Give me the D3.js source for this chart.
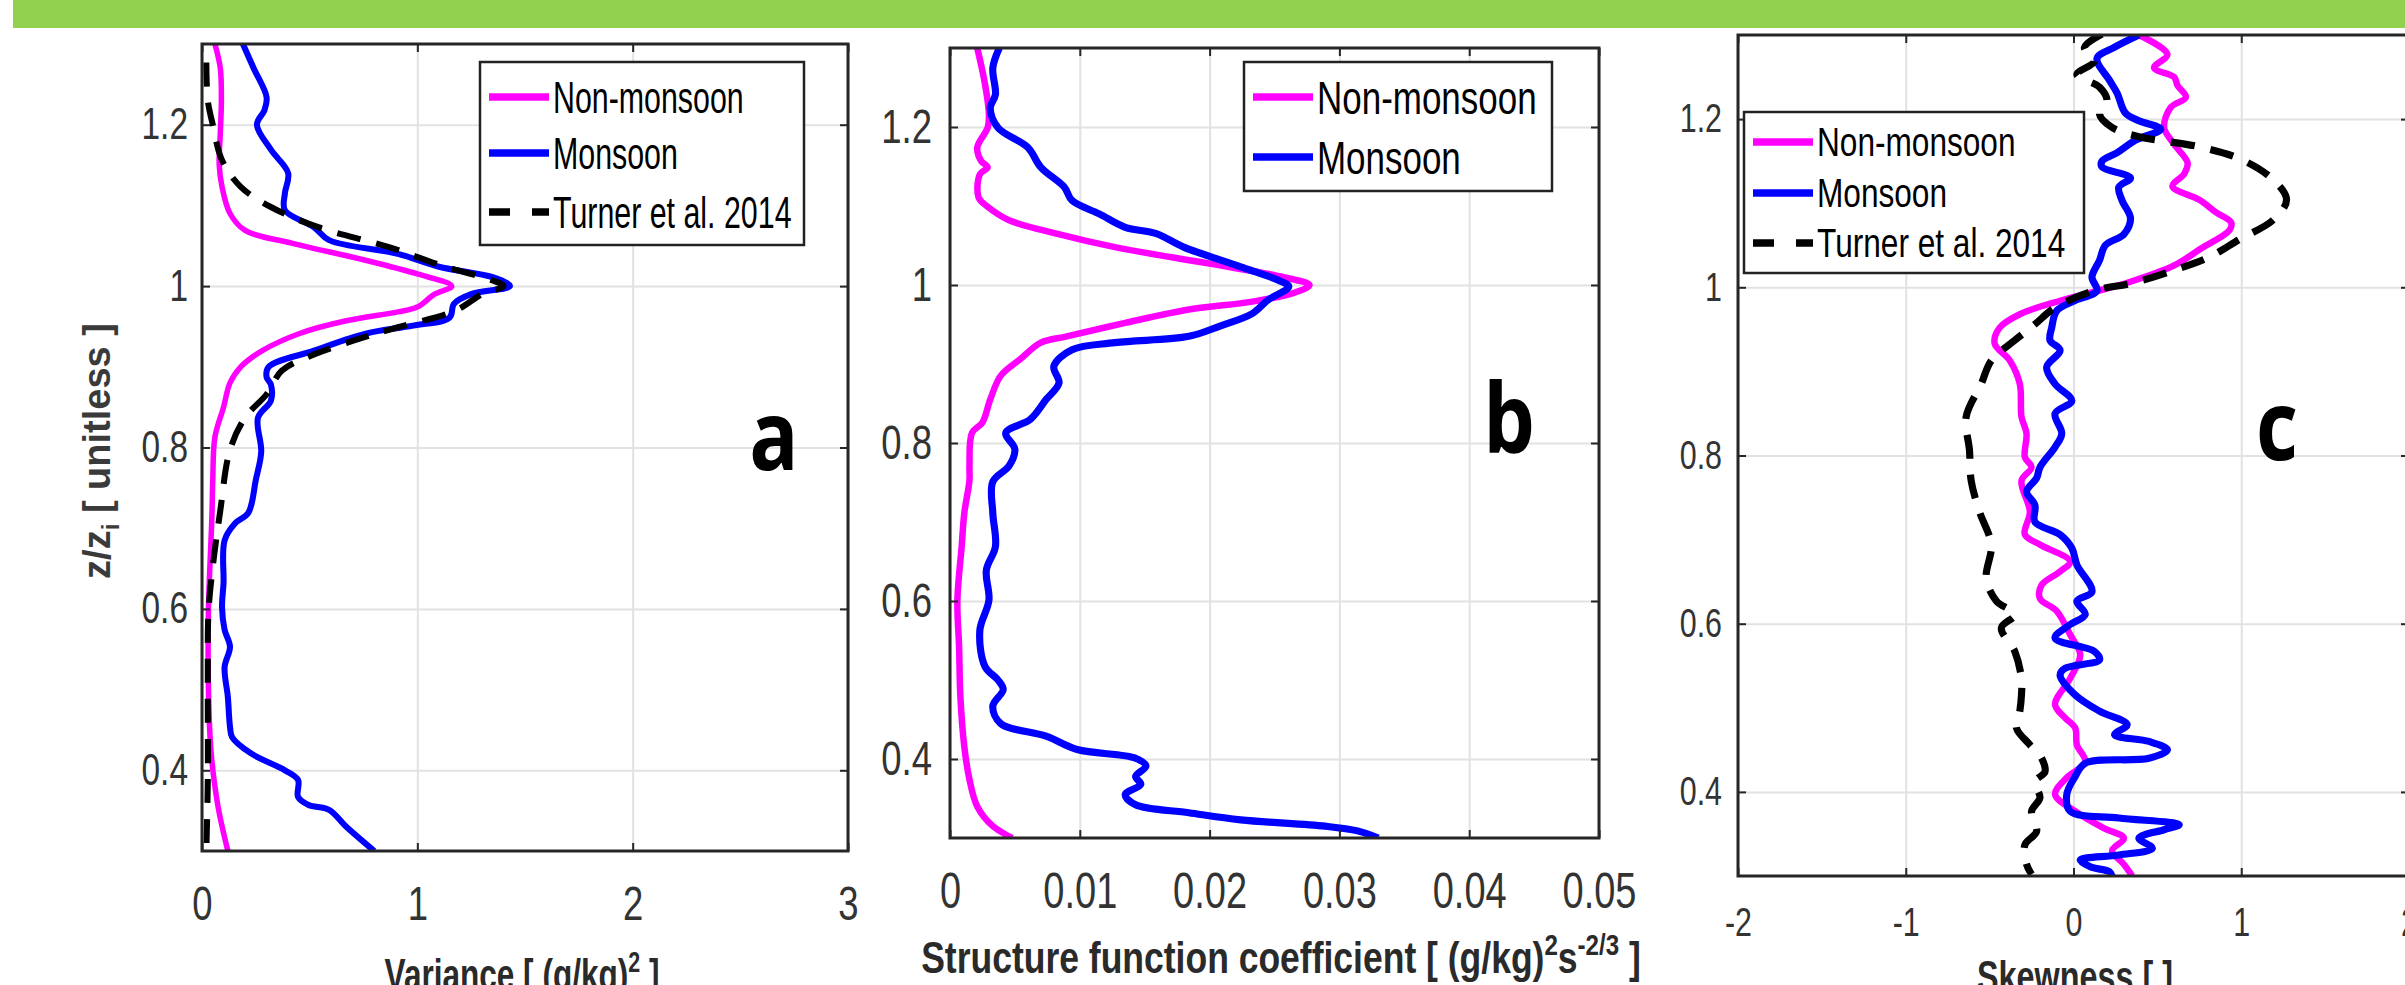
<!DOCTYPE html>
<html>
<head>
<meta charset="utf-8">
<script src="https://cdn.jsdelivr.net/npm/d3@7"></script>
<style>
  body { margin: 0; background: #fff; }
  svg { display: block; }
</style>
</head>
<body>
<svg id="fig" width="2405" height="985"></svg>
<script>
// -------------------- Data --------------------

// shared vertical axis
const zTicks = [0.4, 0.6, 0.8, 1, 1.2];
const zDomain = [0.3, 1.3];
const seriesNames = ["Non-monsoon", "Monsoon", "Turner et al. 2014"];

// panel a : variance  [value, z/zi]
const varTicks = [0, 1, 2, 3];
const varNon = [[0.06,1.30],[0.085,1.27],[0.09,1.23],[0.085,1.19],[0.08,1.15],[0.093,1.123],[0.13,1.09],[0.20,1.069],[0.42,1.053],[0.76,1.032],[1.0,1.015],[1.16,1.0],[1.08,0.99],[1.0,0.974],[0.91,0.968],[0.67,0.957],[0.45,0.941],[0.28,0.92],[0.18,0.9],[0.13,0.88],[0.1,0.85],[0.06,0.813],[0.05,0.76],[0.046,0.714],[0.03,0.6],[0.03,0.5],[0.04,0.43],[0.056,0.388],[0.08,0.347],[0.12,0.30]];
const varMon = [[0.19,1.30],[0.24,1.27],[0.30,1.234],[0.29,1.218],[0.255,1.2],[0.32,1.169],[0.40,1.14],[0.385,1.115],[0.385,1.094],[0.52,1.073],[0.59,1.057],[0.91,1.04],[1.10,1.024],[1.35,1.011],[1.43,1.0],[1.25,0.99],[1.17,0.978],[1.15,0.961],[0.98,0.951],[0.76,0.941],[0.52,0.92],[0.31,0.9],[0.30,0.887],[0.32,0.878],[0.32,0.858],[0.26,0.837],[0.275,0.795],[0.25,0.76],[0.215,0.719],[0.154,0.706],[0.105,0.685],[0.10,0.632],[0.093,0.602],[0.105,0.574],[0.13,0.553],[0.105,0.528],[0.12,0.491],[0.13,0.454],[0.14,0.441],[0.227,0.421],[0.385,0.40],[0.446,0.388],[0.446,0.367],[0.495,0.357],[0.59,0.351],[0.67,0.33],[0.80,0.30]];
const varTur = [[0.02,1.277],[0.027,1.23],[0.05,1.2],[0.093,1.156],[0.18,1.123],[0.32,1.098],[0.54,1.073],[0.86,1.049],[1.13,1.024],[1.35,1.007],[1.40,1.0],[1.30,0.99],[1.18,0.97],[0.91,0.949],[0.71,0.933],[0.49,0.912],[0.37,0.895],[0.30,0.866],[0.20,0.837],[0.13,0.797],[0.084,0.72],[0.05,0.652],[0.03,0.595],[0.027,0.512],[0.027,0.388],[0.02,0.30]];

// panel b : structure function coefficient
const sfcTicks = [0, 0.01, 0.02, 0.03, 0.04, 0.05];
const sfcNon = [[0.0021,1.30],[0.0027,1.254],[0.0030,1.216],[0.0029,1.199],[0.0021,1.174],[0.0024,1.157],[0.0029,1.149],[0.0023,1.14],[0.0022,1.111],[0.0029,1.099],[0.00455,1.082],[0.0082,1.065],[0.0127,1.048],[0.020,1.027],[0.0257,1.01],[0.0277,1.0],[0.0265,0.99],[0.0233,0.979],[0.0184,0.969],[0.0135,0.952],[0.0090,0.935],[0.0070,0.927],[0.0054,0.906],[0.0039,0.885],[0.0031,0.855],[0.0025,0.826],[0.0017,0.813],[0.0015,0.771],[0.0015,0.753],[0.0011,0.711],[0.0009,0.669],[0.00057,0.601],[0.0007,0.542],[0.0008,0.479],[0.0011,0.416],[0.0015,0.374],[0.0021,0.34],[0.0033,0.315],[0.0048,0.30]];
const sfcMon = [[0.0038,1.30],[0.0033,1.275],[0.0035,1.241],[0.0031,1.224],[0.0037,1.199],[0.0060,1.174],[0.0070,1.149],[0.0088,1.124],[0.0094,1.107],[0.0115,1.09],[0.0135,1.073],[0.0159,1.065],[0.0180,1.048],[0.0224,1.023],[0.0253,1.006],[0.0261,0.998],[0.0245,0.981],[0.0233,0.964],[0.0208,0.948],[0.0184,0.935],[0.0127,0.927],[0.0094,0.918],[0.0080,0.897],[0.0084,0.876],[0.0074,0.855],[0.0062,0.83],[0.0043,0.813],[0.0050,0.792],[0.00455,0.771],[0.0033,0.751],[0.0033,0.711],[0.0035,0.669],[0.0028,0.639],[0.0030,0.601],[0.0023,0.563],[0.0027,0.517],[0.0037,0.5],[0.0041,0.488],[0.0033,0.467],[0.0039,0.445],[0.0074,0.429],[0.0098,0.412],[0.0143,0.401],[0.0151,0.391],[0.0143,0.378],[0.0147,0.368],[0.0135,0.355],[0.0143,0.342],[0.0184,0.332],[0.0224,0.323],[0.0289,0.315],[0.0314,0.309],[0.0330,0.30]];

// panel c : skewness
const skewTicks = [-2, -1, 0, 1, 2];
const skewNon = [[0.39,1.30],[0.56,1.277],[0.48,1.261],[0.60,1.25],[0.62,1.24],[0.67,1.226],[0.58,1.214],[0.54,1.19],[0.60,1.17],[0.68,1.148],[0.66,1.135],[0.59,1.12],[0.75,1.104],[0.85,1.089],[0.94,1.077],[0.93,1.068],[0.76,1.046],[0.60,1.026],[0.33,1.006],[0.13,0.995],[-0.08,0.984],[-0.32,0.968],[-0.44,0.952],[-0.47,0.933],[-0.38,0.913],[-0.32,0.885],[-0.31,0.846],[-0.28,0.826],[-0.29,0.798],[-0.25,0.786],[-0.31,0.770],[-0.26,0.733],[-0.29,0.706],[-0.20,0.694],[-0.02,0.674],[-0.08,0.662],[-0.19,0.646],[-0.20,0.63],[-0.10,0.615],[-0.02,0.587],[0.04,0.563],[-0.02,0.535],[-0.11,0.504],[-0.05,0.488],[0.01,0.476],[0.02,0.456],[0.07,0.436],[-0.04,0.417],[-0.11,0.397],[0.01,0.377],[0.18,0.357],[0.30,0.345],[0.23,0.33],[0.30,0.314],[0.35,0.30]];
const skewMon = [[0.39,1.30],[0.24,1.285],[0.14,1.272],[0.215,1.246],[0.26,1.231],[0.31,1.207],[0.39,1.198],[0.52,1.188],[0.37,1.175],[0.26,1.16],[0.17,1.15],[0.17,1.143],[0.34,1.13],[0.27,1.119],[0.29,1.103],[0.34,1.082],[0.30,1.063],[0.19,1.05],[0.155,1.032],[0.11,1.012],[0.14,0.996],[0.006,0.984],[-0.10,0.972],[-0.13,0.952],[-0.14,0.937],[-0.08,0.925],[-0.16,0.905],[-0.11,0.885],[-0.01,0.865],[-0.11,0.85],[-0.07,0.826],[-0.11,0.81],[-0.20,0.786],[-0.22,0.773],[-0.28,0.757],[-0.23,0.741],[-0.23,0.721],[-0.08,0.706],[-0.01,0.69],[0.02,0.67],[0.11,0.638],[0.02,0.627],[0.07,0.611],[-0.02,0.599],[-0.11,0.583],[0.125,0.567],[0.155,0.557],[-0.05,0.547],[-0.08,0.539],[0.006,0.516],[0.155,0.496],[0.32,0.48],[0.245,0.468],[0.45,0.46],[0.56,0.45],[0.45,0.44],[0.07,0.434],[0.006,0.417],[-0.04,0.397],[-0.02,0.377],[0.27,0.369],[0.63,0.361],[0.54,0.355],[0.39,0.345],[0.47,0.333],[0.27,0.325],[0.04,0.319],[0.10,0.311],[0.215,0.305],[0.23,0.30]];
const skewTur = [[0.17,1.301],[0.065,1.285],[0.125,1.269],[0.02,1.253],[0.155,1.238],[0.20,1.222],[0.155,1.206],[0.23,1.19],[0.39,1.179],[0.75,1.167],[1.0,1.152],[1.19,1.128],[1.27,1.104],[1.19,1.08],[0.99,1.057],[0.81,1.036],[0.61,1.021],[0.35,1.005],[0.125,0.996],[-0.11,0.976],[-0.23,0.956],[-0.35,0.937],[-0.49,0.913],[-0.55,0.885],[-0.64,0.846],[-0.62,0.806],[-0.61,0.77],[-0.56,0.733],[-0.49,0.694],[-0.52,0.654],[-0.46,0.627],[-0.35,0.611],[-0.43,0.595],[-0.35,0.567],[-0.31,0.535],[-0.31,0.516],[-0.32,0.496],[-0.34,0.476],[-0.26,0.456],[-0.19,0.44],[-0.17,0.424],[-0.23,0.412],[-0.20,0.393],[-0.25,0.377],[-0.22,0.353],[-0.29,0.337],[-0.28,0.314],[-0.25,0.302]];

// -------------------- Layout --------------------

const styles = [
  { color: "#ff00ff", dash: null, k: 1 },
  { color: "#0000ff", dash: null, k: 1.1 },
  { color: "#000000", dash: "24,16", k: 1.1 }
];

const panels = [
  { id: "a", x0: 202, x1: 848, y0: 44, y1: 851, xDomain: [0, 3], xTicks: varTicks,
    series: [varNon, varMon, varTur], lw: 5.5,
    yFs: 44, xFs: 48, yPad: 14, xPad: 35,
    legend: { x: 480, y: 62, w: 324, h: 183, rows: [97, 153, 212], fs: 44, r: 0.69 },
    letter: { t: "a", x: 774, y: 470 },
    xlabel: { parts: [["Variance [ (g/kg)", 0], ["2", 1], [" ]", 0]], cx: 522, y: 990, fs: 44, w: 275 } },
  { id: "b", x0: 950, x1: 1599, y0: 48, y1: 838, xDomain: [0, 0.05], xTicks: sfcTicks,
    series: [sfcNon, sfcMon], lw: 6.5,
    yFs: 48, xFs: 50, yPad: 18, xPad: 34,
    legend: { x: 1244, y: 62, w: 308, h: 129, rows: [97, 157], fs: 46, r: 0.76 },
    letter: { t: "b", x: 1509, y: 453 },
    xlabel: { parts: [["Structure function coefficient [ (g/kg)", 0], ["2", 1], ["s", 2], ["-2/3", 1], [" ]", 2]], cx: 1281, y: 973, fs: 44, w: 720 } },
  { id: "c", x0: 1738, x1: 2409, y0: 35, y1: 876, xDomain: [-2, 2], xTicks: skewTicks,
    series: [skewNon, skewMon, skewTur], lw: 6.5,
    yFs: 40, xFs: 40, yPad: 16, xPad: 32,
    legend: { x: 1744, y: 112, w: 340, h: 161, rows: [142, 193, 243], fs: 40, r: 0.79 },
    letter: { t: "c", x: 2277, y: 460 },
    xlabel: { parts: [["Skewness [ ]", 0]], cx: 2075, y: 992, fs: 44, w: 196 } }
];

const svg = d3.select("#fig");
const axisColor = "#262626";
const gridColor = "#e2e2e2";

// squeeze text horizontally (figure was pasted narrower than drawn)
function squeeze(sel, r) {
  sel.each(function () {
    const w = this.getComputedTextLength();
    d3.select(this).attr("textLength", w * r).attr("lengthAdjust", "spacingAndGlyphs");
  });
}

// green banner at the top
svg.append("rect").attr("x", 13).attr("y", 0).attr("width", 2405 - 13).attr("height", 28).attr("fill", "#92d050");

const defs = svg.append("defs");

panels.forEach(p => {
  const g = svg.append("g").attr("class", "panel-" + p.id);
  const x = d3.scaleLinear().domain(p.xDomain).range([p.x0, p.x1]);
  const y = d3.scaleLinear().domain(zDomain).range([p.y1, p.y0]);
  const w = p.x1 - p.x0, h = p.y1 - p.y0;

  // grid
  g.append("g").attr("transform", `translate(0,${p.y1})`)
    .call(d3.axisBottom(x).tickValues(p.xTicks).tickSize(-h).tickFormat(""))
    .call(a => a.select(".domain").remove())
    .selectAll("line").attr("stroke", gridColor).attr("stroke-width", 2);
  g.append("g").attr("transform", `translate(${p.x0},0)`)
    .call(d3.axisLeft(y).tickValues(zTicks).tickSize(-w).tickFormat(""))
    .call(a => a.select(".domain").remove())
    .selectAll("line").attr("stroke", gridColor).attr("stroke-width", 2);

  // data lines
  defs.append("clipPath").attr("id", "clip-" + p.id)
    .append("rect").attr("x", p.x0).attr("y", p.y0).attr("width", w).attr("height", h);
  const line = d3.line().x(d => x(d[0])).y(d => y(d[1])).curve(d3.curveCatmullRom.alpha(0.5));
  const lg = g.append("g").attr("clip-path", `url(#clip-${p.id})`);
  p.series.forEach((s, i) => {
    lg.append("path").datum(s)
      .attr("fill", "none")
      .attr("stroke", styles[i].color)
      .attr("stroke-width", p.lw * styles[i].k)
      .attr("stroke-linejoin", "round")
      .attr("stroke-dasharray", styles[i].dash)
      .attr("d", line);
  });

  // axes with inward ticks (MATLAB style)
  const fmt = d => String(d);
  const xa = g.append("g").attr("class", "ax").attr("transform", `translate(0,${p.y1})`)
    .call(d3.axisBottom(x).tickValues(p.xTicks).tickSize(-8).tickSizeOuter(0).tickPadding(p.xPad).tickFormat(fmt));
  const ya = g.append("g").attr("class", "ax").attr("transform", `translate(${p.x0},0)`)
    .call(d3.axisLeft(y).tickValues(zTicks).tickSize(-8).tickSizeOuter(0).tickPadding(p.yPad).tickFormat(fmt));
  g.append("g").attr("class", "ax").attr("transform", `translate(0,${p.y0})`)
    .call(d3.axisTop(x).tickValues(p.xTicks).tickSize(-8).tickSizeOuter(0).tickFormat(""));
  g.append("g").attr("class", "ax").attr("transform", `translate(${p.x1},0)`)
    .call(d3.axisRight(y).tickValues(zTicks).tickSize(-8).tickSizeOuter(0).tickFormat(""));
  g.selectAll(".ax .domain").remove();
  g.selectAll(".ax .tick line").attr("stroke", axisColor).attr("stroke-width", 2);

  xa.selectAll("text").attr("font-family", "Liberation Sans, Arial, sans-serif")
    .attr("font-size", p.xFs).attr("fill", "#333").call(squeeze, 0.76);
  ya.selectAll("text").attr("font-family", "Liberation Sans, Arial, sans-serif")
    .attr("font-size", p.yFs).attr("fill", "#333").call(squeeze, 0.76);

  // box
  g.append("rect").attr("x", p.x0).attr("y", p.y0).attr("width", w).attr("height", h)
    .attr("fill", "none").attr("stroke", axisColor).attr("stroke-width", 3);

  // legend
  const L = p.legend;
  const leg = g.append("g");
  leg.append("rect").attr("x", L.x).attr("y", L.y).attr("width", L.w).attr("height", L.h)
    .attr("fill", "#fff").attr("stroke", "#222").attr("stroke-width", 2.5);
  L.rows.forEach((ry, i) => {
    leg.append("line").attr("x1", L.x + 9).attr("x2", L.x + 69).attr("y1", ry).attr("y2", ry)
      .attr("stroke", styles[i].color).attr("stroke-width", 7.5)
      .attr("stroke-dasharray", styles[i].dash ? "21,22" : null);
    leg.append("text").attr("x", L.x + 73).attr("y", ry).attr("dy", "0.36em")
      .attr("font-family", "Liberation Sans, Arial, sans-serif").attr("font-size", L.fs)
      .attr("fill", "#000").text(seriesNames[i]).call(squeeze, L.r);
  });

  // panel letter
  g.append("text").attr("x", p.letter.x).attr("y", p.letter.y).attr("text-anchor", "middle")
    .attr("font-family", "Open Sans, sans-serif").attr("font-weight", 700).attr("font-size", 96)
    .attr("fill", "#000").text(p.letter.t).call(squeeze, 0.85);

  // x label (with superscripts), squeezed to the measured width
  const X = p.xlabel;
  const xg = g.append("g");
  const xt = xg.append("text").attr("text-anchor", "middle")
    .attr("font-family", "Liberation Sans, Arial, sans-serif").attr("font-weight", 700)
    .attr("font-size", X.fs).attr("fill", "#2a2a2a");
  let up = false;
  X.parts.forEach(([t, kind]) => {
    const ts = xt.append("tspan").text(t);
    if (kind === 1) { ts.attr("font-size", X.fs * 0.68).attr("dy", up ? 0 : -X.fs * 0.42); up = true; }
    else if (up) { ts.attr("dy", X.fs * 0.42); up = false; }
  });
  const natural = xt.node().getComputedTextLength();
  xg.attr("transform", `translate(${X.cx},${X.y}) scale(${X.w / natural},1)`);
});

// y label of panel a
const yl = svg.append("text").attr("transform", "translate(110,451) rotate(-90)")
  .attr("text-anchor", "middle").attr("font-family", "Liberation Sans, Arial, sans-serif")
  .attr("font-weight", 700).attr("font-size", 38).attr("fill", "#3a3a3a");
yl.append("tspan").text("z/z");
yl.append("tspan").text("i").attr("font-size", 24).attr("dy", 9);
yl.append("tspan").text(" [ unitless ]").attr("dy", -9);
</script>
</body>
</html>
